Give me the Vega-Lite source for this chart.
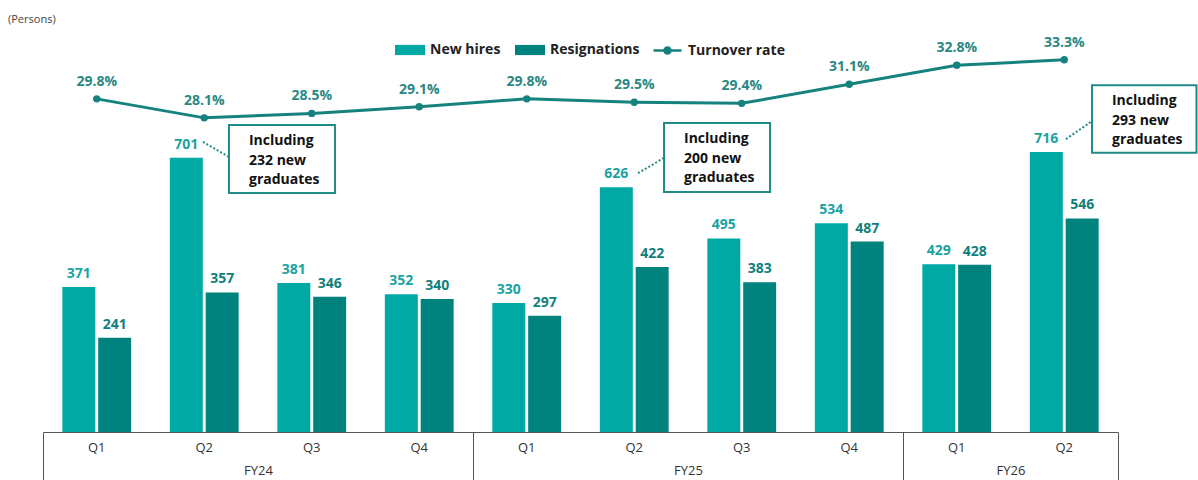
{
  "$schema": "https://vega.github.io/schema/vega-lite/v6.json",
  "autosize": {"type": "none"},
  "width": 1075,
  "height": 402,
  "padding": {"left": 43, "top": 30, "right": 80, "bottom": 48},
  "background": "white",
  "config": {"view": {"stroke": null}, "font": "Open Sans"},
  "title": {"text": "(Persons)", "anchor": "start", "frame": "group", "fontSize": 11, "fontWeight": "normal", "color": "#444", "font": "Open Sans", "dx": -35, "offset": 5},
  "datasets": {
    "bars": [
      {"quarter": "FY24 Q1", "series": "New hires", "value": 371},
      {"quarter": "FY24 Q1", "series": "Resignations", "value": 241},
      {"quarter": "FY24 Q2", "series": "New hires", "value": 701},
      {"quarter": "FY24 Q2", "series": "Resignations", "value": 357},
      {"quarter": "FY24 Q3", "series": "New hires", "value": 381},
      {"quarter": "FY24 Q3", "series": "Resignations", "value": 346},
      {"quarter": "FY24 Q4", "series": "New hires", "value": 352},
      {"quarter": "FY24 Q4", "series": "Resignations", "value": 340},
      {"quarter": "FY25 Q1", "series": "New hires", "value": 330},
      {"quarter": "FY25 Q1", "series": "Resignations", "value": 297},
      {"quarter": "FY25 Q2", "series": "New hires", "value": 626},
      {"quarter": "FY25 Q2", "series": "Resignations", "value": 422},
      {"quarter": "FY25 Q3", "series": "New hires", "value": 495},
      {"quarter": "FY25 Q3", "series": "Resignations", "value": 383},
      {"quarter": "FY25 Q4", "series": "New hires", "value": 534},
      {"quarter": "FY25 Q4", "series": "Resignations", "value": 487},
      {"quarter": "FY26 Q1", "series": "New hires", "value": 429},
      {"quarter": "FY26 Q1", "series": "Resignations", "value": 428},
      {"quarter": "FY26 Q2", "series": "New hires", "value": 716},
      {"quarter": "FY26 Q2", "series": "Resignations", "value": 546}
    ],
    "rates": [
      {"quarter": "FY24 Q1", "metric": "Turnover rate", "rate": 29.8},
      {"quarter": "FY24 Q2", "metric": "Turnover rate", "rate": 28.1},
      {"quarter": "FY24 Q3", "metric": "Turnover rate", "rate": 28.5},
      {"quarter": "FY24 Q4", "metric": "Turnover rate", "rate": 29.1},
      {"quarter": "FY25 Q1", "metric": "Turnover rate", "rate": 29.8},
      {"quarter": "FY25 Q2", "metric": "Turnover rate", "rate": 29.5},
      {"quarter": "FY25 Q3", "metric": "Turnover rate", "rate": 29.4},
      {"quarter": "FY25 Q4", "metric": "Turnover rate", "rate": 31.1},
      {"quarter": "FY26 Q1", "metric": "Turnover rate", "rate": 32.8},
      {"quarter": "FY26 Q2", "metric": "Turnover rate", "rate": 33.3}
    ],
    "notes": [
      {"note": "Including\n232 new\ngraduates", "bx1": 1.730, "bx2": 2.716, "by1": 785, "by2": 611, "lx1": 1.488, "lx2": 1.730, "ly1": 742, "ly2": 703},
      {"note": "Including\n200 new\ngraduates", "bx1": 5.777, "bx2": 6.763, "by1": 790, "by2": 614, "lx1": 5.535, "lx2": 5.777, "ly1": 662, "ly2": 701},
      {"note": "Including\n293 new\ngraduates", "bx1": 9.758, "bx2": 10.730, "by1": 887, "by2": 714, "lx1": 9.516, "lx2": 9.758, "ly1": 749, "ly2": 795}
    ]
  },
  "layer": [
    {
      "layer": [
        {
          "data": {"name": "bars"},
          "layer": [
            {
              "mark": {"type": "bar"},
              "encoding": {
                "x": {"field": "quarter", "type": "nominal", "scale": {"paddingInner": 0.36, "paddingOuter": 0.18},
                  "axis": {"orient": "bottom", "title": null, "ticks": false, "domain": true, "domainColor": "#555", "domainWidth": 1, "labelPadding": 9, "labelFontSize": 13, "labelColor": "#333", "labelFont": "Open Sans", "labelAngle": 0, "labelExpr": "split(datum.label, ' ')[1]"}},
                "xOffset": {"field": "series", "type": "nominal", "sort": ["New hires", "Resignations"], "scale": {"paddingInner": 0.08}},
                "y": {"field": "value", "type": "quantitative", "scale": {"domain": [0, 1028], "nice": false}, "axis": null},
                "color": {"field": "series", "type": "nominal", "sort": ["New hires", "Resignations"],
                  "scale": {"domain": ["New hires", "Resignations"], "range": ["#00A9A4", "#00827E"]},
                  "legend": {"orient": "none", "legendX": 352, "legendY": 5, "direction": "horizontal", "title": null,
                    "symbolType": "M-1,-0.34H1V0.34H-1Z", "symbolSize": 900, "symbolStrokeWidth": 0, "symbolOpacity": 1,
                    "labelFontSize": 14, "labelFontWeight": "bold", "labelColor": "#222", "labelFont": "Open Sans", "labelOffset": 5, "columnPadding": 14}}
              }
            },
            {
              "mark": {"type": "text", "baseline": "bottom", "dy": -6, "fontSize": 14, "fontWeight": "bold", "font": "Open Sans"},
              "encoding": {
                "x": {"field": "quarter", "type": "nominal"},
                "xOffset": {"field": "series", "type": "nominal", "sort": ["New hires", "Resignations"]},
                "y": {"field": "value", "type": "quantitative"},
                "text": {"field": "value", "type": "quantitative"},
                "fill": {"condition": {"test": "datum.series === 'New hires'", "value": "#1AA39F"}, "value": "#11807C"}
              }
            }
          ]
        },
        {
          "data": {"name": "rates"},
          "transform": [{"calculate": "format(datum.rate, '.1f') + '%'", "as": "rateLabel"}],
          "layer": [
            {
              "mark": {"type": "line", "strokeWidth": 3},
              "encoding": {
                "x": {"field": "quarter", "type": "nominal"},
                "y": {"field": "rate", "type": "quantitative", "scale": {"domain": [0, 35.96], "nice": false, "zero": true}, "axis": null},
                "stroke": {"field": "metric", "type": "nominal", "scale": {"domain": ["Turnover rate"], "range": ["#16827E"]},
                  "legend": {"orient": "none", "legendX": 609, "legendY": 5, "direction": "horizontal", "title": null,
                    "symbolType": "M-1,0H1M0.22,0A0.22,0.22,0,1,1,-0.22,0A0.22,0.22,0,1,1,0.22,0Z", "symbolSize": 784, "symbolStrokeWidth": 2.5, "symbolFillColor": "#16827E", "symbolStrokeColor": "#16827E",
                    "labelFontSize": 14, "labelFontWeight": "bold", "labelColor": "#222", "labelFont": "Open Sans", "labelOffset": 5}}
              }
            },
            {
              "mark": {"type": "point", "filled": true, "size": 55, "color": "#16827E", "opacity": 1},
              "encoding": {
                "x": {"field": "quarter", "type": "nominal"},
                "y": {"field": "rate", "type": "quantitative"}
              }
            },
            {
              "mark": {"type": "text", "baseline": "bottom", "dy": -10, "fontSize": 14, "fontWeight": "bold", "font": "Open Sans", "color": "#2A8884"},
              "encoding": {
                "x": {"field": "quarter", "type": "nominal"},
                "y": {"field": "rate", "type": "quantitative"},
                "text": {"field": "rateLabel", "type": "nominal"}
              }
            }
          ]
        }
      ],
      "resolve": {"scale": {"y": "independent"}}
    },
    {
      "data": {"name": "notes"},
      "layer": [
        {
          "mark": {"type": "rect", "fill": "white", "stroke": "#1F8C88", "strokeWidth": 2},
          "encoding": {
            "x": {"field": "bx1", "type": "quantitative", "scale": {"domain": [0, 10], "nice": false, "zero": false},
              "axis": {"orient": "bottom", "title": null, "values": [0, 2, 4, 6, 8, 9, 10], "domain": false, "grid": false, "tickSize": 50, "tickWidth": 1,
                "tickColor": {"condition": {"test": "datum.value === 0 || datum.value === 4 || datum.value === 8 || datum.value === 10", "value": "#555"}, "value": "transparent"},
                "labelExpr": "datum.value === 2 ? 'FY24' : datum.value === 6 ? 'FY25' : datum.value === 9 ? 'FY26' : ''",
                "labelPadding": -18, "labelFontSize": 13, "labelColor": "#333", "labelFont": "Open Sans", "labelFlush": false, "labelOverlap": false, "labelBound": false}},
            "x2": {"field": "bx2"},
            "y": {"field": "by1", "type": "quantitative", "scale": {"domain": [0, 1028], "nice": false}, "axis": null},
            "y2": {"field": "by2"}
          }
        },
        {
          "mark": {"type": "text", "align": "left", "baseline": "top", "dx": 20, "dy": 9, "lineBreak": "\n", "lineHeight": 19.5, "fontSize": 14, "fontWeight": "bold", "font": "Open Sans", "color": "#111"},
          "encoding": {
            "x": {"field": "bx1", "type": "quantitative"},
            "y": {"field": "by1", "type": "quantitative"},
            "text": {"field": "note", "type": "nominal"}
          }
        },
        {
          "mark": {"type": "rule", "stroke": "#1F8C88", "strokeWidth": 2, "strokeDash": [2, 2]},
          "encoding": {
            "x": {"field": "lx1", "type": "quantitative"},
            "x2": {"field": "lx2"},
            "y": {"field": "ly1", "type": "quantitative"},
            "y2": {"field": "ly2"}
          }
        }
      ]
    }
  ],
  "resolve": {"scale": {"x": "independent", "y": "independent"}}
}
